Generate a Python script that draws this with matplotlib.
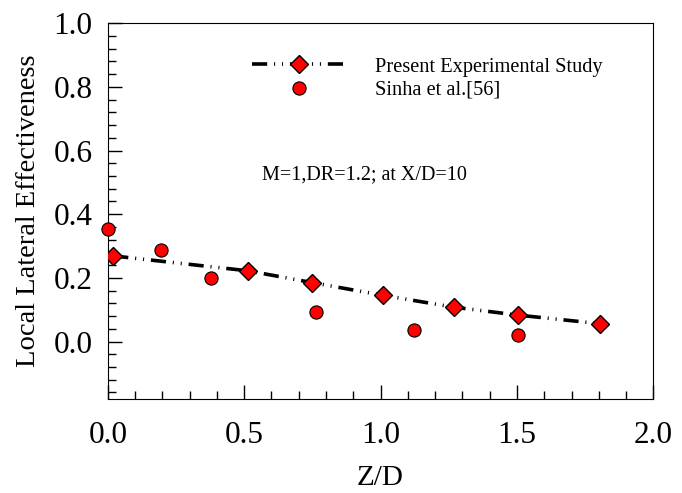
import matplotlib.pyplot as plt
from matplotlib.ticker import MultipleLocator

# present experimental study
zd_present = [0.02, 0.515, 0.75, 1.01, 1.268, 1.504, 1.805]
eta_present = [0.269, 0.222, 0.185, 0.145, 0.108, 0.083, 0.056]
err_present = [0.012, 0.012, 0.010, 0.008, 0.008, 0.006, 0.006]

# Sinha et al.[56]
zd_sinha = [0.0, 0.197, 0.378, 0.763, 1.123, 1.504]
eta_sinha = [0.352, 0.287, 0.201, 0.094, 0.036, 0.022]

plt.rcParams['font.family'] = ['Liberation Serif', 'DejaVu Serif']

fig = plt.figure(figsize=(6.82, 4.93), dpi=100)
ax = fig.add_axes([0.158, 0.191, 0.8, 0.762])

ax.errorbar(zd_present, eta_present, yerr=err_present, fmt='none',
            ecolor='black', elinewidth=1, capsize=3, zorder=2)
ax.plot(zd_present, eta_present, color='black', lw=2.6,
        linestyle=(0, (4.2, 1.9, 0.3, 1.9, 0.3, 1.9)),
        marker='D', markersize=9, markerfacecolor='red',
        markeredgecolor='black', markeredgewidth=1,
        label='Present Experimental Study', zorder=3)
ax.plot(zd_sinha, eta_sinha, linestyle='none', marker='o', markersize=9.5,
        markerfacecolor='red', markeredgecolor='black', markeredgewidth=0.8,
        label='Sinha et al.[56]', zorder=4, clip_on=False)

ax.set_xlim(0, 2.0)
ax.set_ylim(-0.18, 1.0)
ax.xaxis.set_major_locator(MultipleLocator(0.5))
ax.xaxis.set_minor_locator(MultipleLocator(0.1))
ax.yaxis.set_major_locator(MultipleLocator(0.2))
ax.yaxis.set_minor_locator(MultipleLocator(0.04))
ax.xaxis.set_major_formatter(plt.FormatStrFormatter('%.1f'))
ax.yaxis.set_major_formatter(plt.FormatStrFormatter('%.1f'))
ax.tick_params(which='both', direction='in', top=False, right=False, labelsize=22.5)
ax.tick_params(which='major', length=10, width=1)
ax.tick_params(which='minor', length=6, width=1)
ax.tick_params(axis='x', pad=16)
ax.tick_params(axis='y', pad=11)

ax.set_xlabel('Z/D', fontsize=21, labelpad=11)
ax.set_ylabel('Local Lateral Effectiveness', fontsize=20.5, labelpad=9)

ax.text(0.282, 0.596, 'M=1,DR=1.2; at X/D=10', transform=ax.transAxes, fontsize=14.5,
        va='center', ha='left')

ax.legend(loc='upper left', bbox_to_anchor=(0.25, 0.931), frameon=False,
          fontsize=14.7, handlelength=4.55, handletextpad=1.47, labelspacing=0.2,
          borderaxespad=0)

fig.savefig('out.png', dpi=100)
